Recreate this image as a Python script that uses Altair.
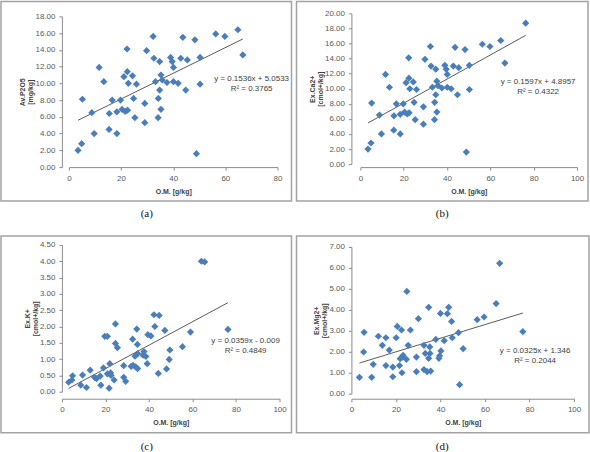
import altair as alt
import pandas as pd

# ---- data: organic matter (O.M., g/kg) against each soil property ----
om_a = [3.5, 4.9, 5.2, 8.8, 9.7, 11.6, 13.4, 15.4, 15.5, 16.6, 18.4, 18.4, 19.8, 20.4, 21.1,
        21.6, 22.3, 22.4, 22.5, 22.8, 24.4, 24.8, 25.3, 25.9, 29.1, 29.1, 29.8, 32.3, 32.6, 33.2,
        34.2, 34.3, 34.8, 34.8, 35.3, 35.3, 35.8, 37.6, 39.0, 39.6, 40.1, 40.1, 41.9, 42.9, 43.7,
        44.8, 45.4, 48.3, 48.9, 50.3, 50.3, 56.3, 59.8, 64.8, 66.7]
p2o5 = [2.0, 2.8, 8.1, 6.5, 4.0, 11.9, 10.2, 4.5, 6.4, 8.0, 6.6, 4.0, 8.0, 6.9, 10.8,
        6.65, 14.1, 11.4, 6.8, 10.0, 10.9, 8.2, 5.9, 9.9, 7.6, 5.3, 13.9, 15.6, 13.0, 10.2,
        5.9, 8.2, 12.6, 9.2, 11.0, 6.9, 10.4, 10.1, 13.1, 12.6, 11.9, 10.2, 10.0, 13.0, 15.5,
        9.2, 12.8, 15.2, 1.6, 13.1, 9.9, 15.9, 15.6, 16.4, 13.4]

om_b = om_a + [76.3]
ca = p2o5 + [18.7]

om_c = [3.1, 4.6, 4.9, 8.7, 9.5, 11.3, 13.0, 15.0, 15.9, 17.6, 17.9, 19.1, 19.7, 20.9, 20.9,
        21.7, 22.0, 22.4, 22.6, 24.0, 24.6, 24.6, 25.5, 28.4, 28.4, 29.3, 31.8, 32.5, 32.7, 33.6,
        33.9, 34.4, 34.7, 34.8, 34.8, 37.3, 37.7, 38.6, 39.2, 39.5, 40.9, 42.3, 42.7, 44.3, 44.7,
        47.3, 48.1, 49.3, 49.6, 55.4, 59.1, 64.1, 65.6, 76.3]
k = [0.29, 0.36, 0.49, 0.20, 0.51, 0.13, 0.66, 0.44, 0.40, 0.48, 0.20, 0.73, 1.70, 1.70, 0.55,
     0.11, 0.86, 0.58, 0.50, 0.36, 2.08, 1.48, 1.35, 0.80, 0.44, 0.32, 0.78, 1.61, 0.81, 1.09,
     0.76, 1.92, 1.45, 1.17, 0.71, 1.12, 1.23, 1.08, 0.86, 1.75, 1.71, 2.36, 2.00, 0.56, 2.34,
     1.88, 0.70, 0.99, 1.28, 1.38, 1.83, 4.00, 3.98, 1.91]

om_d = [3.6, 5.5, 5.7, 9.1, 9.8, 12.1, 13.9, 15.5, 15.5, 17.0, 18.6, 18.6, 20.1, 20.6, 21.6,
        21.9, 22.5, 22.7, 22.8, 23.2, 24.7, 24.9, 25.5, 26.5, 29.2, 29.2, 30.1, 32.6, 32.6, 33.2,
        34.0, 34.7, 34.7, 35.2, 35.3, 35.6, 37.9, 39.3, 39.6, 40.0, 40.2, 41.7, 43.1, 43.7, 45.0,
        45.3, 48.1, 48.6, 50.2, 56.5, 59.6, 65.0, 66.6, 77.0]
mg = [0.78, 1.99, 2.93, 0.78, 1.40, 2.74, 2.31, 1.34, 2.67, 2.08, 1.27, 0.81, 2.67, 3.21, 1.34,
      1.67, 3.04, 1.00, 1.75, 1.83, 1.64, 4.88, 2.31, 3.04, 1.75, 1.05, 3.58, 2.31, 1.15, 1.92,
      1.05, 4.12, 1.69, 2.23, 1.92, 1.08, 2.59, 1.69, 1.81, 3.83, 2.04, 2.53, 3.82, 4.12, 3.45,
      2.67, 2.91, 0.43, 2.15, 3.53, 3.66, 4.30, 6.22, 2.96]

# linear trend lines: y = slope * x + intercept
slopes = [0.1536, 0.1597, 0.0359, 0.0325]
intercepts = [5.0533, 4.8957, -0.009, 1.346]
r_squared = [0.3765, 0.4322, 0.4849, 0.2044]

captions = ["(a)", "(b)", "(c)", "(d)"]
y_titles = [["Av.P2O5", "[mg/kg]"], ["Ex.Ca2+", "[cmol+/kg]"],
            ["Ex.K+", "[cmol+/kg]"], ["Ex.Mg2+", "[cmol+/kg]"]]
x_title = "O.M. [g/kg]"
x_max = [80, 100, 100, 100]
y_ticks = [
    [0, 2, 4, 6, 8, 10, 12, 14, 16, 18],
    [0, 2, 4, 6, 8, 10, 12, 14, 16, 18, 20],
    [0, 0.5, 1, 1.5, 2, 2.5, 3, 3.5, 4, 4.5],
    [0, 1, 2, 3, 4, 5, 6, 7],
]

# ---- layout (pixels, relative to each panel's view origin) ----
VIEW_W, VIEW_H = 226, 154
x_ranges = [[7, 216], [9, 226], [0, 218], [0, 223]]
y_ranges = [[154, 3], [151, 0], [147, 0], [149, 2]]
frames = [(-61, 230, -12, 188), (-55, 237, -12, 188), (-61, 230, -9, 188), (-55, 238, -9, 188)]
caption_pos = [(85, 201), (91, 201), (85, 202), (91, 202)]
eq_pos = [(190, 62), (187, 65), (184, 92), (184, 102)]

POINT_COLOR = "#4A7EBB"
FONT = "Liberation Sans"


def fmt_eq(m, b):
    sign = "+" if b >= 0 else "-"
    return f"y = {m}x {sign} {abs(b)}"


def panel(i, xs, ys):
    pts = pd.DataFrame({"om": xs, "val": ys})
    x0, x1 = min(xs), max(xs)
    trend = pd.DataFrame({"om": [x0, x1],
                          "val": [slopes[i] * x0 + intercepts[i], slopes[i] * x1 + intercepts[i]]})
    one = pd.DataFrame({"k": [0]})

    xscale = alt.Scale(domain=[0, x_max[i]], range=x_ranges[i], nice=False, zero=False)
    yscale = alt.Scale(domain=[y_ticks[i][0], y_ticks[i][-1]], range=y_ranges[i], nice=False)
    xaxis = alt.Axis(values=list(range(0, x_max[i] + 1, 20)), format="d", title=x_title,
                     labelOverlap=False)
    yaxis = alt.Axis(values=y_ticks[i], format=".2f", title=y_titles[i],
                     labelOverlap=False, tickCount=len(y_ticks[i]), titlePadding=1)

    fx0, fx1, fy0, fy1 = frames[i]
    frame = alt.Chart(one).mark_rect(fill="transparent", stroke="#A3A3A3", strokeWidth=1.5).encode(
        x=alt.value(fx0), x2=alt.value(fx1), y=alt.value(fy0), y2=alt.value(fy1))

    dots = alt.Chart(pts).mark_point(shape="diamond", filled=True, size=52,
                                     color=POINT_COLOR, opacity=1).encode(
        x=alt.X("om:Q", scale=xscale, axis=xaxis),
        y=alt.Y("val:Q", scale=yscale, axis=yaxis))

    line = alt.Chart(trend).mark_line(color="#5A5A5A", strokeWidth=1).encode(
        x=alt.X("om:Q", scale=xscale), y=alt.Y("val:Q", scale=yscale))

    ex, ey = eq_pos[i]
    eq_text = fmt_eq(slopes[i], intercepts[i]) + "\nR² = " + str(r_squared[i])
    eq = alt.Chart(one).mark_text(font=FONT, fontSize=8, color="#404040", align="center",
                                  baseline="top", lineBreak="\n", lineHeight=10).encode(
        x=alt.value(ex), y=alt.value(ey), text=alt.value(eq_text))

    cx, cy = caption_pos[i]
    cap = alt.Chart(one).mark_text(font="Liberation Serif", fontSize=11, color="#111111",
                                   align="center", baseline="middle").encode(
        x=alt.value(cx), y=alt.value(cy), text=alt.value(captions[i]))

    return alt.layer(frame, line, dots, eq, cap).properties(width=VIEW_W, height=VIEW_H)


charts = [panel(0, om_a, p2o5), panel(1, om_b, ca), panel(2, om_c, k), panel(3, om_d, mg)]

chart = alt.concat(*charts, columns=2, spacing={"row": 78, "column": 64}, bounds="flush",
                   padding=0).configure_view(strokeWidth=0).configure_axis(
    grid=False, labelOverlap=False, labelFlush=False, labelBound=False,
    domainColor="#8C8C8C", tickColor="#8C8C8C", tickSize=3,
    labelFont=FONT, labelFontSize=8, labelColor="#595959", labelPadding=4,
    titleFont=FONT, titleFontSize=7, titleFontWeight="bold", titleColor="#404040",
    titlePadding=5, titleLineHeight=8,
)

chart.save("out.html", embed_options={"renderer": "svg", "actions": False})
